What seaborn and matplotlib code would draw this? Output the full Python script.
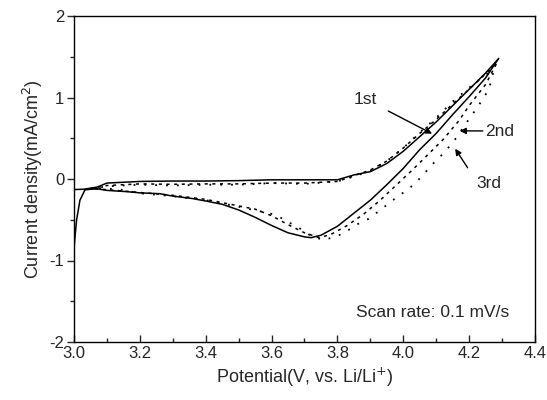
import matplotlib
matplotlib.use("Agg")
import matplotlib.pyplot as plt
import seaborn as sns
import pandas as pd
from matplotlib.ticker import MultipleLocator

# ---- data ----
# 1st cycle: anodic (upper) branch then cathodic (lower) branch
c1_x = [3.0, 3.03, 3.07, 3.1, 3.2, 3.3, 3.4, 3.5, 3.6, 3.7, 3.8, 3.85, 3.9, 3.95, 4.0, 4.05,
        4.1, 4.15, 4.2, 4.25, 4.29,
        4.25, 4.2, 4.15, 4.1, 4.05, 4.0, 3.95, 3.9, 3.85, 3.8, 3.75, 3.72, 3.7, 3.65, 3.6,
        3.55, 3.5, 3.45, 3.4, 3.36, 3.3, 3.26, 3.2, 3.16, 3.1, 3.07, 3.04, 3.033, 3.018,
        3.008, 3.003, 3.0]
c1_y = [-0.13, -0.125, -0.1, -0.05, -0.03, -0.025, -0.025, -0.02, -0.01, -0.01, -0.01, 0.05,
        0.09, 0.19, 0.34, 0.52, 0.7, 0.9, 1.1, 1.3, 1.48,
        1.24, 1.01, 0.79, 0.56, 0.36, 0.13, -0.07, -0.26, -0.42, -0.58, -0.69, -0.72, -0.71,
        -0.66, -0.57, -0.47, -0.38, -0.31, -0.27, -0.24, -0.21, -0.18, -0.17, -0.155, -0.14,
        -0.12, -0.13, -0.135, -0.26, -0.5, -0.71, -0.86]

# 2nd cycle
c2_x = [3.05, 3.1, 3.2, 3.3, 3.4, 3.5, 3.6, 3.7, 3.8, 3.85, 3.9, 3.95, 4.0, 4.05, 4.1, 4.15,
        4.2, 4.25, 4.285,
        4.25, 4.2, 4.17, 4.12, 4.08, 4.03, 3.98, 3.93, 3.88, 3.83, 3.78, 3.745, 3.7, 3.65,
        3.6, 3.55, 3.5, 3.4, 3.3, 3.2, 3.1, 3.05]
c2_y = [-0.12, -0.08, -0.06, -0.065, -0.06, -0.06, -0.05, -0.05, -0.03, 0.04, 0.11, 0.22,
        0.38, 0.56, 0.73, 0.92, 1.1, 1.29, 1.43,
        1.16, 0.9, 0.72, 0.48, 0.32, 0.12, -0.07, -0.26, -0.43, -0.57, -0.68, -0.72, -0.66,
        -0.56, -0.45, -0.37, -0.33, -0.25, -0.2, -0.165, -0.13, -0.12]

# 3rd cycle
c3_x = [3.05, 3.1, 3.2, 3.3, 3.4, 3.5, 3.6, 3.7, 3.8, 3.85, 3.9, 3.95, 4.0, 4.05, 4.1, 4.15,
        4.2, 4.25, 4.275,
        4.26, 4.24, 4.22, 4.19, 4.16, 4.127, 4.086, 4.056, 4.02, 3.975, 3.924, 3.894, 3.858,
        3.818, 3.76, 3.72, 3.696, 3.63, 3.595, 3.545, 3.5, 3.4, 3.3, 3.2, 3.14, 3.1, 3.05]
c3_y = [-0.12, -0.09, -0.07, -0.08, -0.07, -0.07, -0.05, -0.06, -0.03, 0.03, 0.1, 0.22,
        0.38, 0.57, 0.75, 0.95, 1.12, 1.28, 1.33,
        1.1, 0.97, 0.85, 0.68, 0.5, 0.335, 0.17, 0.03, -0.11, -0.24, -0.4, -0.49, -0.56,
        -0.67, -0.75, -0.7, -0.63, -0.48, -0.42, -0.38, -0.34, -0.26, -0.21, -0.175, -0.13,
        -0.12, -0.12]

cycle_names = ["1st", "2nd", "3rd"]
x_ticks = [3.0, 3.2, 3.4, 3.6, 3.8, 4.0, 4.2, 4.4]
y_ticks = [-2, -1, 0, 1, 2]

# ---- plotting ----
sns.set_style("ticks")
plt.rcParams["font.family"] = ["Liberation Sans", "DejaVu Sans"]

fig = plt.figure(figsize=(5.47, 4.0), dpi=100)
ax = fig.add_axes([0.1353, 0.145, 0.8427, 0.815])

frames = []
for name, xs, ys in zip(cycle_names, [c1_x, c2_x, c3_x], [c1_y, c2_y, c3_y]):
    frames.append(pd.DataFrame({"x": xs, "y": ys, "cycle": name}))

styles = {"1st": dict(lw=1.1, ls="-"),
          "2nd": dict(lw=1.1, ls=(0, (2.0, 3.0))),
          "3rd": dict(lw=1.3, ls=(0, (1, 5)))}
for df in frames:
    name = df["cycle"].iloc[0]
    sns.lineplot(data=df, x="x", y="y", sort=False, estimator=None, color="black",
                 ax=ax, **styles[name])

ax.set_xlim(3.0, 4.4)
ax.set_ylim(-2, 2)
ax.set_xticks(x_ticks)
ax.set_xticklabels([f"{v:.1f}" for v in x_ticks])
ax.set_yticks(y_ticks)
ax.set_yticklabels([str(v) for v in y_ticks])
ax.xaxis.set_minor_locator(MultipleLocator(0.1))
ax.yaxis.set_minor_locator(MultipleLocator(0.5))
ax.tick_params(axis="x", which="major", direction="in", length=5, width=1, labelsize=12, pad=3)
ax.tick_params(axis="x", which="minor", direction="in", length=3, width=1)
ax.tick_params(axis="y", which="major", direction="out", length=5, width=1, labelsize=12, pad=2)
ax.tick_params(axis="y", which="minor", direction="out", length=3, width=1)
for s in ax.spines.values():
    s.set_visible(True)
    s.set_linewidth(1.0)
    s.set_color("black")

ax.set_xlabel("Potential(V, vs. Li/Li$^{+}$)", fontsize=13, labelpad=3)
ax.set_ylabel("Current density(mA/cm$^{2}$)", fontsize=13, labelpad=3)

# annotations
arrow = dict(arrowstyle="-|>", color="black", lw=1.0, mutation_scale=9)
ax.annotate("", xy=(4.095, 0.54), xytext=(3.947, 0.85), arrowprops=arrow)
ax.text(3.884, 0.98, "1st", fontsize=12.5, ha="center", va="center")
ax.annotate("", xy=(4.163, 0.59), xytext=(4.25, 0.59), arrowprops=arrow)
ax.text(4.248, 0.58, "2nd", fontsize=12.5, ha="left", va="center")
ax.annotate("", xy=(4.153, 0.40), xytext=(4.20, 0.11), arrowprops=arrow)
ax.text(4.26, -0.06, "3rd", fontsize=12.5, ha="center", va="center")
ax.text(4.09, -1.64, "Scan rate: 0.1 mV/s", fontsize=12.5, ha="center", va="center")

fig.savefig("out.png", dpi=100)
